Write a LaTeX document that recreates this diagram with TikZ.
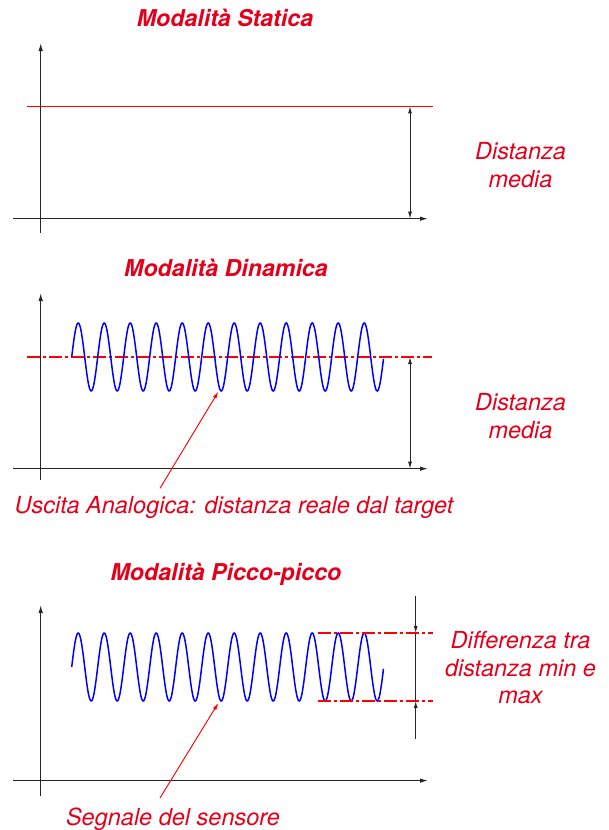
\documentclass[tikz,border=0pt]{standalone}
\usepackage{fontspec}
\setmainfont{TeX Gyre Heros}
\usetikzlibrary{arrows.meta}
\definecolor{txtred}{RGB}{228,0,27}
\definecolor{linered}{RGB}{255,0,0}
\begin{document}
\begin{tikzpicture}[x=1pt,y=-1pt,
  axis/.style={line width=1.1pt, draw=black!85, -{Latex[length=8pt,width=4.5pt]}},
  dimline/.style={line width=1pt, draw=black!85},
  dimtip/.style={line width=1pt, draw=black!85, -{Latex[length=7pt,width=4pt]}},
  dimboth/.style={line width=1pt, draw=black!85, {Latex[length=7pt,width=4pt]}-{Latex[length=7pt,width=4pt]}},
  level/.style={line width=1pt, draw=linered},
  redchain/.style={line width=1.1pt, color=linered, draw=linered, dash pattern=on 13pt off 3pt on 3pt off 3pt},
  signal/.style={line width=1.5pt, draw=blue},
  pointer/.style={line width=0.9pt, draw=linered, fill=linered, -{Latex[length=7pt,width=4pt]}},
  title/.style={text=txtred, font=\fontsize{23.2}{28}\selectfont\bfseries\itshape, anchor=base, inner sep=0pt},
  lab/.style={text=txtred, font=\fontsize{23.5}{28}\selectfont\itshape, align=center, inner sep=0pt},
]
\useasboundingbox (0,0) rectangle (608,830);

% ---------- Panel 1: Statica ----------
\node[title] (t1) at (225,26.7) {Modalità Statica};
\coordinate (y1b) at (40.7,233);
\coordinate (y1t) at (40.7,43);
\coordinate (x1l) at (13,218.7);
\coordinate (x1r) at (428,218.7);
\draw[axis] (y1b) -- (y1t);
\draw[axis] (x1l) -- (x1r);
\coordinate (r1l) at (27,106.3);
\coordinate (r1r) at (433,106.3);
\draw[level] (r1l) -- (r1r);
\coordinate (d1t) at (410,106.3);
\coordinate (d1b) at (410,218.7);
\draw[dimboth] (d1b) -- (d1t);
\node[lab, anchor=north] (l1) at (520.5,142.3) {Distanza\\media};

% ---------- Panel 2: Dinamica ----------
\node[title] (t2) at (226,276.7) {Modalità Dinamica};
\coordinate (y2b) at (40.7,480);
\coordinate (y2t) at (40.7,293);
\coordinate (x2l) at (13,468.7);
\coordinate (x2r) at (428,468.7);
\draw[axis] (y2b) -- (y2t);
\draw[axis] (x2l) -- (x2r);
\coordinate (r2l) at (27,357);
\coordinate (r2r) at (432,357);
\draw[redchain] (r2l) -- (r2r);
\draw[signal] plot[domain=0:12, samples=600, smooth] ({71.7+26*\x},{357-34*sin(360*\x)});
\coordinate (d2t) at (410,357);
\coordinate (d2b) at (410,468.7);
\draw[dimboth] (d2b) -- (d2t);
\node[lab, anchor=north] (l2) at (520.5,393.3) {Distanza\\media};
\node[lab, anchor=base] (u2) at (234,513.3) {Uscita Analogica: distanza reale dal target};
\coordinate (p2s) at (160,488.3);
\coordinate (p2e) at (218.3,391.7);
\draw[pointer] (p2s) -- (p2e);

% ---------- Panel 3: Picco-picco ----------
\node[title] (t3) at (226,580) {Modalità Picco-picco};
\coordinate (y3b) at (40.7,796);
\coordinate (y3t) at (40.7,605);
\coordinate (x3l) at (13,780.6);
\coordinate (x3r) at (428,780.6);
\draw[axis] (y3b) -- (y3t);
\draw[axis] (x3l) -- (x3r);
\draw[signal] plot[domain=0:12, samples=600, smooth] ({71.7+26*\x},{667-34*sin(360*\x)});
\coordinate (m3l) at (318.3,633);
\coordinate (m3r) at (432.7,633);
\coordinate (n3l) at (318.3,701);
\coordinate (n3r) at (432.7,701);
\draw[redchain] (m3l) -- (m3r);
\draw[redchain] (n3l) -- (n3r);
\coordinate (v3t) at (415.7,596);
\coordinate (v3a) at (415.7,633);
\coordinate (v3b) at (415.7,701);
\coordinate (v3e) at (415.7,739);
\draw[dimline] (v3a) -- (v3b);
\draw[dimtip] (v3t) -- (v3a);
\draw[dimtip] (v3e) -- (v3b);
\node[lab, anchor=north, font=\fontsize{23.5}{27.5}\selectfont\itshape] (l3) at (520.5,631.5) {Differenza tra\\distanza min e\\max};
\node[lab, anchor=base] (s3) at (173,825) {Segnale del sensore};
\coordinate (p3s) at (160,798);
\coordinate (p3e) at (218.3,703);
\draw[pointer] (p3s) -- (p3e);
\end{tikzpicture}
\end{document}
